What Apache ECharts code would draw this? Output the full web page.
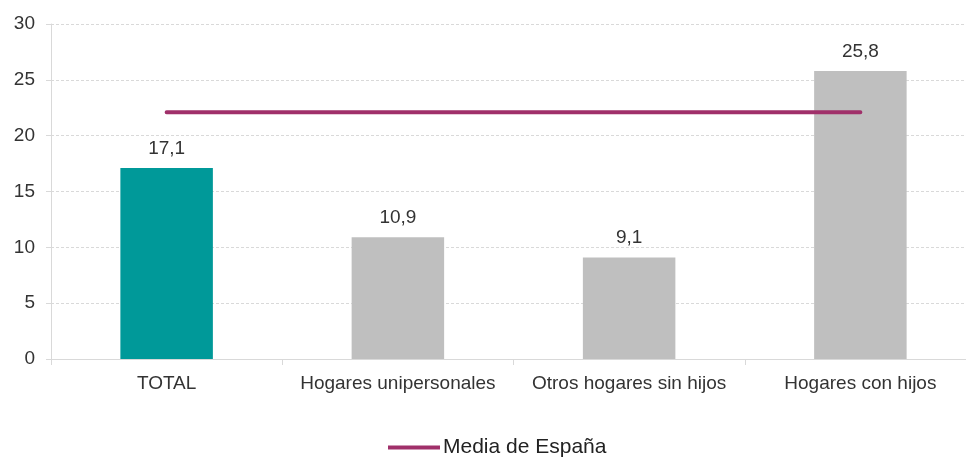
<!DOCTYPE html>
<html>
<head>
<meta charset="utf-8">
<script src="https://cdn.jsdelivr.net/npm/echarts@6/dist/echarts.min.js"></script>
<style>
html, body { margin: 0; padding: 0; background: #fff; }
#container { width: 966px; height: 459px; }
</style>
</head>
<body>
<div id="container"></div>
<script>
var categories = ['TOTAL', 'Hogares unipersonales', 'Otros hogares sin hijos', 'Hogares con hijos'];
var bar_values = [17.1, 10.9, 9.1, 25.8];
var bar_colors = ['#009999', '#BFBFBF', '#BFBFBF', '#BFBFBF'];
var media_name = 'Media de España';
var media_values = [22.1, 22.1, 22.1, 22.1];

var dom = document.getElementById('container');
var chart = echarts.init(dom, null, { renderer: 'canvas' });

var font = '"Liberation Sans", Arial, sans-serif';

var option = {
    animation: false,
    grid: {
        left: 51,
        width: 925,
        top: 24,
        height: 335,
        outerBoundsMode: 'none'
    },
    legend: {
        data: [{ name: media_name, icon: 'path://M0,0 L52,0 L52,4 L0,4 Z' }],
        top: 432,
        left: 383,
        itemWidth: 52,
        itemHeight: 4,
        itemGap: 2,
        textStyle: { fontFamily: font, fontSize: 21, color: '#222', padding: [0, 0, 0, -2] }
    },
    xAxis: {
        type: 'category',
        data: categories,
        axisLine: { lineStyle: { color: '#D9D9D9' } },
        axisTick: { show: true, interval: 0, length: 6, lineStyle: { color: '#D9D9D9' } },
        axisLabel: { interval: 0, hideOverlap: false, fontFamily: font, fontSize: 19, color: '#333', margin: 15 }
    },
    yAxis: {
        type: 'value',
        min: 0,
        max: 30,
        interval: 5,
        axisLine: { show: true, lineStyle: { color: '#D9D9D9' } },
        axisTick: { show: true, length: 5, lineStyle: { color: '#D9D9D9' } },
        axisLabel: { fontFamily: font, fontSize: 19, color: '#333', margin: 16 },
        splitLine: { lineStyle: { color: '#D9D9D9', type: [3, 2] } }
    },
    series: [
        {
            type: 'bar',
            barWidth: '40%',
            data: bar_values.map(function (v, i) {
                return { value: v, itemStyle: { color: bar_colors[i] } };
            }),
            label: {
                show: true,
                position: 'top',
                distance: 10,
                fontFamily: font,
                fontSize: 19,
                color: '#333',
                formatter: function (p) {
                    return String(p.value).replace('.', ',');
                }
            }
        },
        {
            name: media_name,
            type: 'line',
            data: media_values,
            symbol: 'none',
            lineStyle: { color: '#A0306A', width: 4, cap: 'round' },
            itemStyle: { color: '#A0306A' }
        }
    ]
};

chart.setOption(option);
window.addEventListener('resize', chart.resize);
</script>
</body>
</html>
